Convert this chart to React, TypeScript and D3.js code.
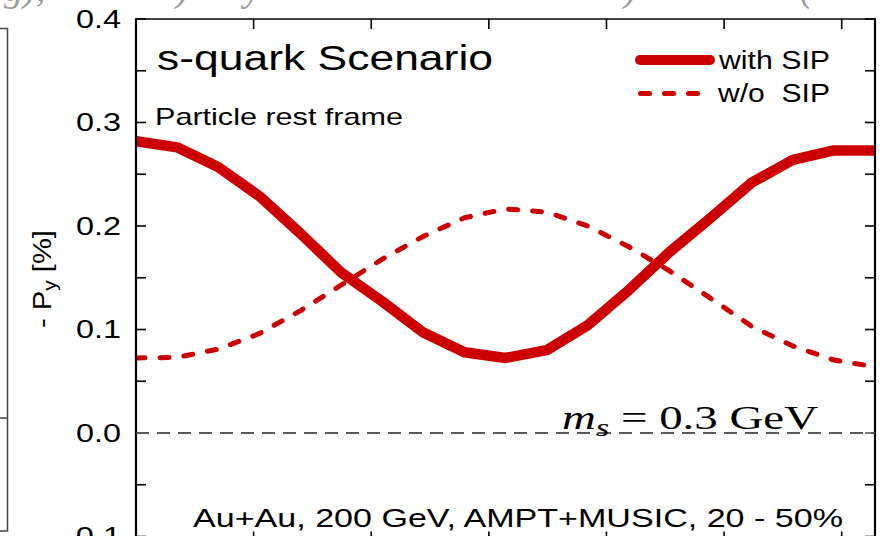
import React from 'react';
import * as d3 from 'd3';

const W = 883;
const H = 536;

// azimuthal angle (rad), sampled every pi/9 from 0 to 2*pi
const phi = [0, 0.349, 0.698, 1.047, 1.396, 1.745, 2.094, 2.443, 2.793, 3.142, 3.491, 3.840, 4.189, 4.538, 4.887, 5.236, 5.585, 5.934, 6.283];
// -P_y [%] with shear-induced polarization
const withSIP = [0.282, 0.276, 0.257, 0.229, 0.193, 0.155, 0.127, 0.097, 0.078, 0.0725, 0.080, 0.104, 0.138, 0.175, 0.208, 0.242, 0.264, 0.273, 0.273];
// -P_y [%] without shear-induced polarization
const withoutSIP = [0.0725, 0.073, 0.081, 0.096, 0.118, 0.143, 0.168, 0.190, 0.208, 0.2165, 0.2135, 0.200, 0.180, 0.1565, 0.130, 0.103, 0.084, 0.0705, 0.064];

const yTicks = [-0.1, 0.0, 0.1, 0.2, 0.3, 0.4];
const yMinorTicks = [-0.05, 0.05, 0.15, 0.25, 0.35];
const xTicks = [1, 2, 3, 4, 5, 6];

const RED = '#cc0000';
const SANS = 'Liberation Sans, Arial, sans-serif';
const SERIF = 'Liberation Serif, Times New Roman, serif';

const left = 136;
const right = 875;
const top = 19;
const bottom = 536.5;

const x = d3.scaleLinear().domain([0, 2 * Math.PI]).range([left, right]);
const y = d3.scaleLinear().domain([-0.1, 0.4]).range([bottom, top]);

const line = d3
  .line<number>()
  .x((_, i) => x(phi[i]))
  .y((d) => y(d));

const fmt = (v: number) => d3.format('.1f')(v).replace('\u2212', '-');

export default function App() {
  const allY = [...yTicks, ...yMinorTicks];
  return (
    <svg
      width={W}
      height={H}
      viewBox={`0 0 ${W} ${H}`}
      style={{ position: 'absolute', left: 0, top: 0, background: '#fff' }}
    >
      <defs>
        <clipPath id="plotArea">
          <rect x={left} y={top} width={right - left} height={bottom - top} />
        </clipPath>
      </defs>
      <rect x={0} y={0} width={W} height={H} fill="#fff" />

      {/* caption line of the figure above, cut at the edge */}
      <g fill="#9a9a9a" fontFamily={SERIF} fontStyle="italic" fontSize={38}>
        <text x={4} y={1}>g),</text>
        <text x={176} y={1}>)</text>
        <text x={244} y={1}>y</text>
        <text x={624} y={1}>)</text>
        <text x={800} y={1}>(</text>
      </g>

      {/* right edge of the neighbouring panel */}
      <g stroke="#444" strokeWidth={1.5} fill="none">
        <path d="M0,28.5H7.5V531H0" />
        <line x1={0} x2={7} y1={418} y2={418} />
      </g>

      {/* y-axis title */}
      <text
        transform="translate(51,328) rotate(-90)"
        fontFamily={SANS}
        fontSize={25}
        fill="#000"
        textLength={98}
        lengthAdjust="spacingAndGlyphs"
      >
        <tspan>- P</tspan>
        <tspan fontSize={18} dy={5}>y</tspan>
        <tspan dy={-5}> [%]</tspan>
      </text>

      {/* y tick labels */}
      <g fontFamily={SANS} fontSize={26.5} fill="#000">
        {yTicks.map((v) => {
          const label = fmt(v);
          const len = label.startsWith('-') ? 56 : 45;
          return (
            <text
              key={v}
              x={121 - len}
              y={y(v) + 8.5}
              textLength={len}
              lengthAdjust="spacingAndGlyphs"
            >
              {label}
            </text>
          );
        })}
      </g>

      {/* zero reference */}
      <line
        x1={left}
        x2={right}
        y1={y(0)}
        y2={y(0)}
        stroke="#5a5a5a"
        strokeWidth={2.2}
        strokeDasharray="13 8"
      />

      {/* curves */}
      <g clipPath="url(#plotArea)" fill="none">
        <path
          d={line(withoutSIP) ?? ''}
          stroke={RED}
          strokeWidth={5}
          strokeDasharray="9 15"
          strokeLinecap="round"
          strokeLinejoin="round"
        />
        <path
          d={line(withSIP) ?? ''}
          stroke={RED}
          strokeWidth={10.5}
          strokeLinecap="butt"
          strokeLinejoin="round"
        />
      </g>

      {/* frame */}
      <g stroke="#000" fill="none">
        <line x1={left} x2={left} y1={top - 0.8} y2={H + 2} strokeWidth={2.2} />
        <line x1={right} x2={right} y1={top - 0.8} y2={H + 2} strokeWidth={2.2} />
        <line x1={left} x2={right + 1} y1={top} y2={top} strokeWidth={1.6} />
      </g>

      {/* ticks */}
      <g stroke="#000" strokeWidth={1.6}>
        {allY.map((v) => (
          <g key={v}>
            <line x1={left} x2={left + 10} y1={y(v)} y2={y(v)} stroke={v === 0 ? '#5a5a5a' : '#000'} />
            <line x1={right} x2={right - 10} y1={y(v)} y2={y(v)} stroke={v === 0 ? '#5a5a5a' : '#000'} />
          </g>
        ))}
        {xTicks.map((v) => (
          <g key={v}>
            <line x1={x(v)} x2={x(v)} y1={top} y2={top + 10} />
            <line x1={x(v)} x2={x(v)} y1={bottom} y2={bottom - 5} />
          </g>
        ))}
      </g>

      {/* annotations */}
      <g fontFamily={SANS} fill="#000">
        <text x={157} y={70} fontSize={35} textLength={336} lengthAdjust="spacingAndGlyphs">
          s-quark Scenario
        </text>
        <text x={155} y={125} fontSize={24} textLength={248} lengthAdjust="spacingAndGlyphs">
          Particle rest frame
        </text>
        <text x={193} y={527} fontSize={26.5} textLength={650} lengthAdjust="spacingAndGlyphs">
          Au+Au, 200 GeV, AMPT+MUSIC, 20 - 50%
        </text>
      </g>

      <text
        x={562}
        y={429}
        fontFamily={SERIF}
        fontSize={34}
        fill="#000"
        textLength={256}
        lengthAdjust="spacingAndGlyphs"
      >
        <tspan fontStyle="italic">m</tspan>
        <tspan fontStyle="italic" fontSize={25} dy={7}>s</tspan>
        <tspan dy={-7} style={{ whiteSpace: 'pre' }}> = 0.3 GeV</tspan>
      </text>

      {/* legend */}
      <g>
        <line x1={640} x2={710} y1={60} y2={60} stroke={RED} strokeWidth={10} strokeLinecap="round" />
        <line
          x1={640.5}
          x2={700}
          y1={93.5}
          y2={93.5}
          stroke={RED}
          strokeWidth={5}
          strokeLinecap="round"
          strokeDasharray="9 15"
        />
        <g fontFamily={SANS} fontSize={25} fill="#000">
          <text x={719} y={69} textLength={111} lengthAdjust="spacingAndGlyphs">
            with SIP
          </text>
          <text x={718} y={102} textLength={112} lengthAdjust="spacingAndGlyphs" style={{ whiteSpace: 'pre' }}>
            w/o  SIP
          </text>
        </g>
      </g>
    </svg>
  );
}
